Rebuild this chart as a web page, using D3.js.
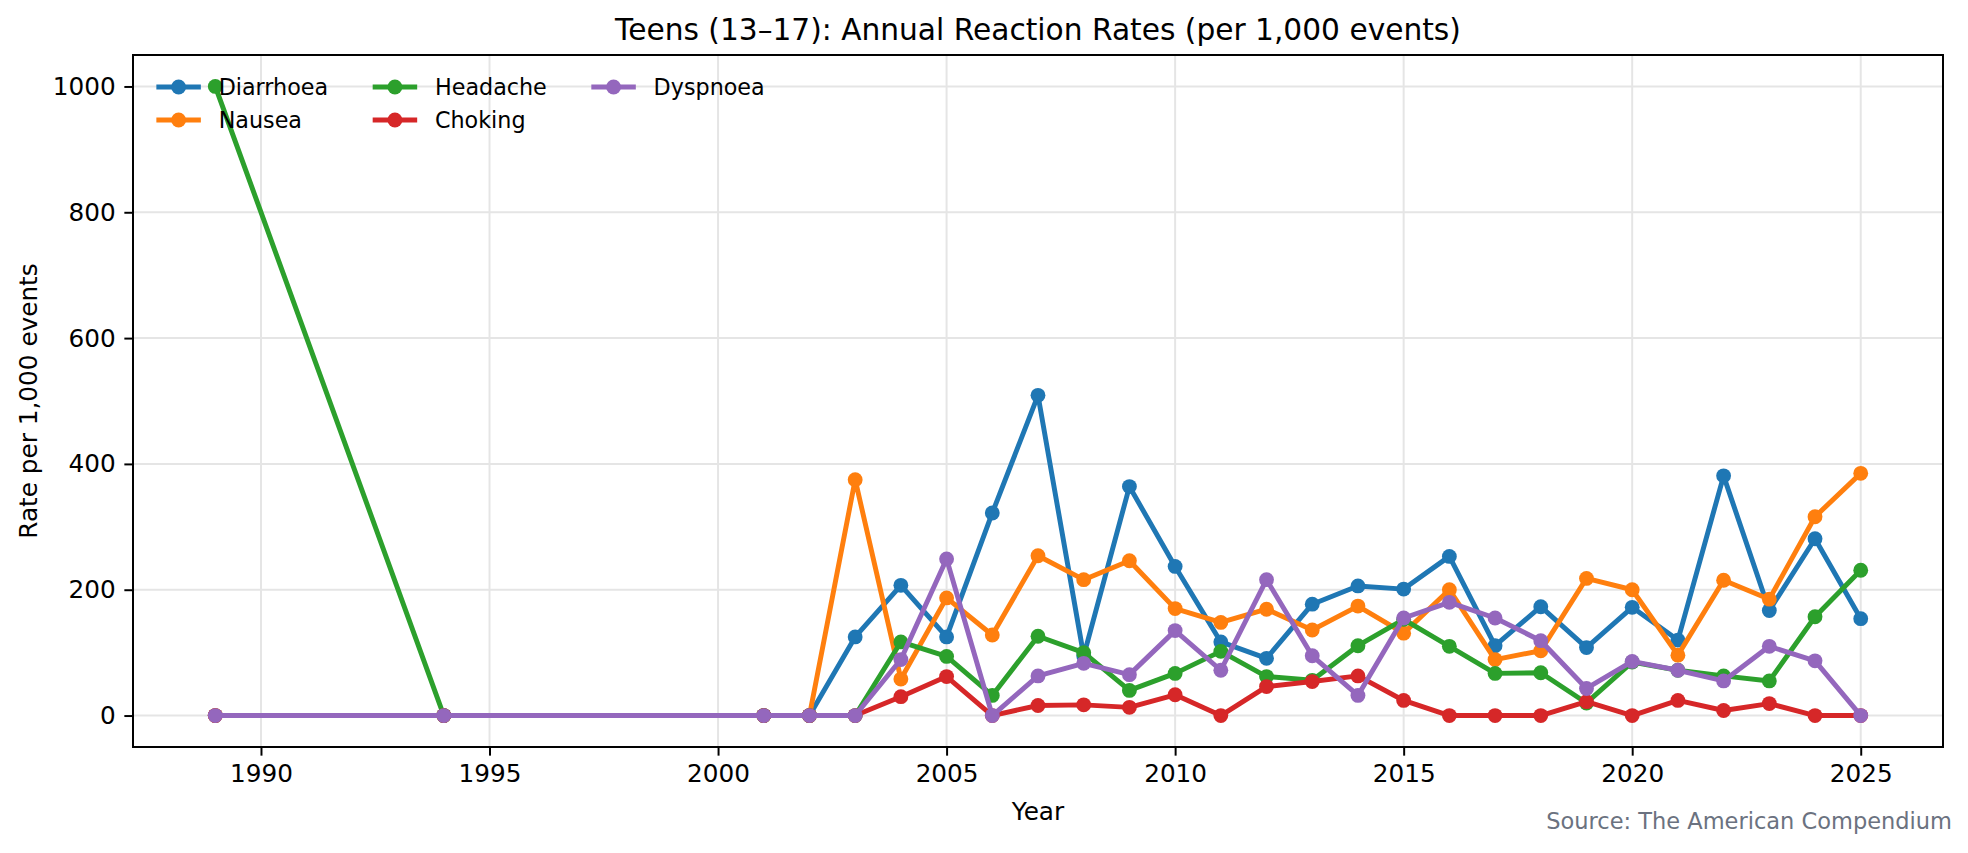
<!DOCTYPE html>
<html>
<head>
<meta charset="utf-8">
<script src="https://cdn.jsdelivr.net/npm/d3@7"></script>
<style>
  html, body { margin: 0; padding: 0; background: #ffffff; }
  svg { display: block; font-family: "DejaVu Sans", sans-serif; }
</style>
</head>
<body>
<svg id="chart" width="1968" height="853"></svg>
<script>
// ---- data ----
const years = [1989, 1994, 2001, 2002, 2003, 2004, 2005, 2006, 2007, 2008, 2009, 2010, 2011, 2012, 2013, 2014, 2015, 2016, 2017, 2018, 2019, 2020, 2021, 2022, 2023, 2024, 2025];
const seriesNames = ["Diarrhoea", "Nausea", "Headache", "Choking", "Dyspnoea"];
const diarrhoea = [0, 0, 0, 0, 125, 207, 125, 322, 509, 95, 364, 237, 117, 91, 177, 206, 201, 253, 111, 173, 108, 172, 120, 381, 167, 281, 154];
const nausea    = [0, 0, 0, 0, 375, 58, 187, 128, 254, 216, 246, 170, 148, 169, 136, 174, 131, 200, 89, 103, 218, 200, 96, 215, 185, 316, 385];
const headache  = [1000, 0, 0, 0, 0, 117, 94, 32, 126, 100, 40, 67, 102, 62, 56, 111, 153, 110, 67, 68, 20, 85, 72, 63, 55, 157, 231];
const choking   = [0, 0, 0, 0, 0, 30, 62, 0, 16, 17, 13, 33, 0, 46, 54, 63, 24, 0, 0, 0, 22, 0, 24, 8, 19, 0, 0];
const dyspnoea  = [0, 0, 0, 0, 0, 89, 249, 0, 63, 83, 65, 135, 72, 216, 95, 32, 155, 180, 155, 119, 43, 86, 72, 55, 110, 87, 0];
const seriesValues = [diarrhoea, nausea, headache, choking, dyspnoea];
const colors = ["#1f77b4", "#ff7f0e", "#2ca02c", "#d62728", "#9467bd"];
const xTicks = [1990, 1995, 2000, 2005, 2010, 2015, 2020, 2025];
const yTicks = [0, 200, 400, 600, 800, 1000];
const titleText = "Teens (13\u201317): Annual Reaction Rates (per 1,000 events)";
const xLabel = "Year";
const yLabel = "Rate per 1,000 events";
const sourceText = "Source: The American Compendium";

// ---- layout ----
const svg = d3.select("#chart");
const L = 133, R = 1943, T = 55, B = 747;
const PT = 178 / 72;            // px per point
const tickFont = 10 * PT, legFont = 9 * PT, titleFont = 12 * PT;
const x = d3.scaleLinear().domain([1987.2, 2026.8]).range([L, R]);
const y = d3.scaleLinear().domain([-50, 1050]).range([B, T]);

// grid
const grid = svg.append("g");
grid.selectAll("line.gx").data(xTicks).enter().append("line")
  .attr("x1", d => x(d)).attr("x2", d => x(d)).attr("y1", T).attr("y2", B)
  .attr("stroke", "#e5e5e5").attr("stroke-width", 0.8 * PT);
grid.selectAll("line.gy").data(yTicks).enter().append("line")
  .attr("x1", L).attr("x2", R).attr("y1", d => y(d)).attr("y2", d => y(d))
  .attr("stroke", "#e5e5e5").attr("stroke-width", 0.8 * PT);

// series
const line = d3.line().x((d, i) => x(years[i])).y(d => y(d));
seriesValues.forEach((vals, s) => {
  const g = svg.append("g");
  g.append("path").datum(vals).attr("d", line)
    .attr("fill", "none").attr("stroke", colors[s]).attr("stroke-width", 2 * PT)
    .attr("stroke-linejoin", "round").attr("stroke-linecap", "square");
  g.selectAll("circle").data(vals).enter().append("circle")
    .attr("cx", (d, i) => x(years[i])).attr("cy", d => y(d)).attr("r", 3 * PT)
    .attr("fill", colors[s]);
});

// axes
const tl = 3.5 * PT;
const xAxis = d3.axisBottom(x).tickValues(xTicks).tickFormat(d3.format("d")).tickSize(tl).tickPadding(tl);
const yAxis = d3.axisLeft(y).tickValues(yTicks).tickFormat(d3.format("d")).tickSize(tl).tickPadding(tl);
const gx = svg.append("g").attr("transform", `translate(0,${B})`).call(xAxis);
const gy = svg.append("g").attr("transform", `translate(${L},0)`).call(yAxis);
[gx, gy].forEach(g => {
  g.select(".domain").remove();
  g.selectAll(".tick line").attr("stroke", "#000").attr("stroke-width", 0.8 * PT);
  g.selectAll(".tick text").attr("fill", "#000").style("font-size", tickFont + "px").style("font-family", "DejaVu Sans");
});

// frame
svg.append("rect").attr("x", L).attr("y", T).attr("width", R - L).attr("height", B - T)
  .attr("fill", "none").attr("stroke", "#000").attr("stroke-width", 0.8 * PT);

// legend (matplotlib-like layout, 3 columns, no frame)
const legendRows = [87, 120];
let colX = L + 1.05 * legFont;
const nCols = 3;
for (let c = 0; c < nCols; c++) {
  const items = [c * 2, c * 2 + 1].filter(i => i < seriesNames.length);
  let maxW = 0;
  items.forEach((i, r) => {
    const ly = legendRows[r];
    const g = svg.append("g");
    g.append("line").attr("x1", colX).attr("x2", colX + 2 * legFont).attr("y1", ly).attr("y2", ly)
      .attr("stroke", colors[i]).attr("stroke-width", 2 * PT);
    g.append("circle").attr("cx", colX + legFont).attr("cy", ly).attr("r", 3 * PT).attr("fill", colors[i]);
    const t = g.append("text").attr("x", colX + 2.8 * legFont).attr("y", ly).attr("dy", "0.35em")
      .style("font-size", legFont + "px").attr("fill", "#000").text(seriesNames[i]);
    maxW = Math.max(maxW, t.node().getComputedTextLength());
  });
  colX += 2.8 * legFont + maxW + 2 * legFont;
}

// texts
svg.append("text").attr("x", (L + R) / 2).attr("y", 30).attr("dy", "0.35em")
  .attr("text-anchor", "middle").style("font-size", titleFont + "px").attr("fill", "#000").text(titleText);
svg.append("text").attr("x", (L + R) / 2).attr("y", 811).attr("dy", "0.35em")
  .attr("text-anchor", "middle").style("font-size", tickFont + "px").attr("fill", "#000").text(xLabel);
svg.append("text").attr("transform", `translate(28,${(T + B) / 2}) rotate(-90)`).attr("dy", "0.35em")
  .attr("text-anchor", "middle").style("font-size", tickFont + "px").attr("fill", "#000").text(yLabel);
svg.append("text").attr("x", 1952).attr("y", 829)
  .attr("text-anchor", "end").style("font-size", "22.5px").attr("fill", "#6b7280").text(sourceText);
</script>
</body>
</html>
